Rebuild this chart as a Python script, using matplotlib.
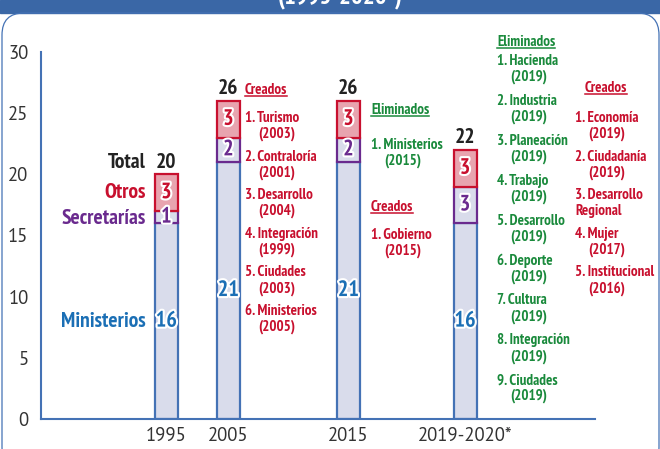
import numpy as np
import matplotlib
matplotlib.use('Agg')
import matplotlib.pyplot as plt
import matplotlib.patheffects as pe
from matplotlib.patches import Rectangle, FancyBboxPatch
from matplotlib.lines import Line2D
from matplotlib.transforms import IdentityTransform

# données
years = ['1995', '2005', '2015', '2019-2020*']
ministerios = [16, 21, 21, 16]
secretarias = [1, 2, 2, 3]
otros = [3, 3, 3, 3]
totals = [m + s + o for m, s, o in zip(ministerios, secretarias, otros)]

creados_2005 = [('Turismo', '(2003)'), ('Contraloría', '(2001)'), ('Desarrollo', '(2004)'),
                ('Integración', '(1999)'), ('Ciudades', '(2003)'), ('Ministerios', '(2005)')]
eliminados_2015 = [('Ministerios', '(2015)')]
creados_2015 = [('Gobierno', '(2015)')]
eliminados_2019 = [('Hacienda', '(2019)'), ('Industria', '(2019)'), ('Planeación', '(2019)'),
                   ('Trabajo', '(2019)'), ('Desarrollo', '(2019)'), ('Deporte', '(2019)'),
                   ('Cultura', '(2019)'), ('Integración', '(2019)'), ('Ciudades', '(2019)')]
creados_2019 = [('Economía', '(2019)'), ('Ciudadanía', '(2019)'), ('Desarrollo', 'Regional'),
                ('Mujer', '(2017)'), ('Institucional', '(2016)')]

# couleurs
c_axis = '#4472B5'
c_fill = '#D9DCEB'
c_pink = '#E8A4AF'
c_red = '#C8102E'
c_purple = '#6A2A8E'
c_blue = '#1B6FB5'
c_green = '#1A8A3C'
c_banner = '#3A67A6'

bold = ['PT Sans Narrow', 'DejaVu Sans']
W, H = 660, 449
fs_note = 10.8   # listes
fs_big = 15.5    # totaux / légende

fig = plt.figure(figsize=(W / 100, H / 100), dpi=100)
px = IdentityTransform()

# bandeau + cadre
fig.patches.append(Rectangle((0, H - 12.5), W, 12.5, transform=px, color=c_banner, zorder=0))
fig.patches.append(FancyBboxPatch((2, -20), 657, H - 13 + 20, boxstyle='round,pad=0,rounding_size=22',
                                  transform=px, fill=False, edgecolor=c_axis, lw=0.9, zorder=0))
fig.text(340 / W, 1 - 4 / H, '(1995-2020*)', color='white', fontsize=18, fontweight='bold',
         ha='center', va='baseline', family=bold)

ax = fig.add_axes([41 / W, 1 - 419 / H, (595 - 41) / W, (419 - 52) / H])
ax.patch.set_alpha(0)
x = np.array([0, 1, 2.935, 4.815])
width = 0.37
ax.set_xlim(-2.02, 6.91)
ax.set_ylim(0, 30)

bottom2 = np.array(ministerios) + np.array(secretarias)
ax.bar(x, ministerios, width, color=c_fill, edgecolor=c_axis, lw=1.6)
ax.bar(x, secretarias, width, bottom=ministerios, color=c_fill, edgecolor=c_purple, lw=1.6)
ax.bar(x, otros, width, bottom=bottom2, color=c_pink, edgecolor=c_red, lw=1.6)

stroke = [pe.withStroke(linewidth=3, foreground='white')]
for i in range(len(x)):
    ax.text(x[i], ministerios[i] / 2, str(ministerios[i]), color=c_blue, fontsize=16,
            fontweight='bold', ha='center', va='center', family=bold, path_effects=stroke)
    ax.text(x[i], ministerios[i] + secretarias[i] / 2, str(secretarias[i]), color=c_purple,
            fontsize=16, fontweight='bold', ha='center', va='center', family=bold, path_effects=stroke)
    ax.text(x[i], bottom2[i] + otros[i] / 2, str(otros[i]), color=c_red, fontsize=16,
            fontweight='bold', ha='center', va='center', family=bold, path_effects=stroke)
    ax.text(x[i], totals[i] + 0.2, str(totals[i]), color='#222222', fontsize=fs_big,
            fontweight='bold', ha='center', va='bottom', family=bold)

# légende à gauche
xl = x[0] - width / 2 - 0.15
ax.text(xl, totals[0] + 0.2, 'Total', color='#222222', fontsize=fs_big, fontweight='bold',
        ha='right', va='bottom', family=bold)
ax.text(xl, bottom2[0] + otros[0] / 2, 'Otros', color=c_red, fontsize=fs_big, fontweight='bold',
        ha='right', va='center', family=bold)
ax.text(xl, ministerios[0] + secretarias[0] / 2 - 0.1, 'Secretarías', color=c_purple, fontsize=fs_big,
        fontweight='bold', ha='right', va='center', family=bold)
ax.text(xl, ministerios[0] / 2, 'Ministerios', color=c_blue, fontsize=fs_big, fontweight='bold',
        ha='right', va='center', family=bold)

ax.set_xticks(x, years)
ax.set_yticks(range(0, 31, 5))
ax.tick_params(length=0, labelsize=13.5, labelcolor='#333333')
for lab in ax.get_xticklabels() + ax.get_yticklabels():
    lab.set_family(['PT Sans', 'DejaVu Sans'])
ax.tick_params(axis='y', pad=9)
ax.tick_params(axis='x', pad=6)
for s in ['top', 'right']:
    ax.spines[s].set_visible(False)
for s in ['left', 'bottom']:
    ax.spines[s].set_color(c_axis)
    ax.spines[s].set_linewidth(1.5)

# listes d'annotations (coordonnées en pixels, origine en haut)
headers = []
def block(xp, yh, header, color, items, y0, step, hx=None):
    t = fig.text((hx if hx else xp) / W, 1 - yh / H, header, color=color, fontsize=fs_note,
                 fontweight='bold', ha='left', va='center', family=bold)
    headers.append(t)
    for k, (a, b) in enumerate(items):
        yy = y0 + k * step
        fig.text(xp / W, 1 - yy / H, f'{k + 1}. {a}', color=color, fontsize=fs_note,
                 fontweight='bold', ha='left', va='center', family=bold)
        dx = 13 if b.startswith('(') else 0
        fig.text((xp + dx) / W, 1 - (yy + 16) / H, b, color=color, fontsize=fs_note,
                 fontweight='bold', ha='left', va='center', family=bold)

block(245, 90, 'Creados', c_red, creados_2005, 118, 38.6)
block(371, 110, 'Eliminados', c_green, eliminados_2015, 145, 40)
block(371, 207, 'Creados', c_red, creados_2015, 235, 40)
block(497, 42, 'Eliminados', c_green, eliminados_2019, 61, 39.9)
block(575, 88, 'Creados', c_red, creados_2019, 118, 38.6, hx=585)

# soulignement des titres
fig.canvas.draw()
for t in headers:
    bb = t.get_window_extent()
    fig.lines.append(Line2D([bb.x0, bb.x1], [bb.y0 + 1.5, bb.y0 + 1.5], transform=px,
                            color=t.get_color(), lw=1.1))

fig.savefig('out.png', dpi=100)
